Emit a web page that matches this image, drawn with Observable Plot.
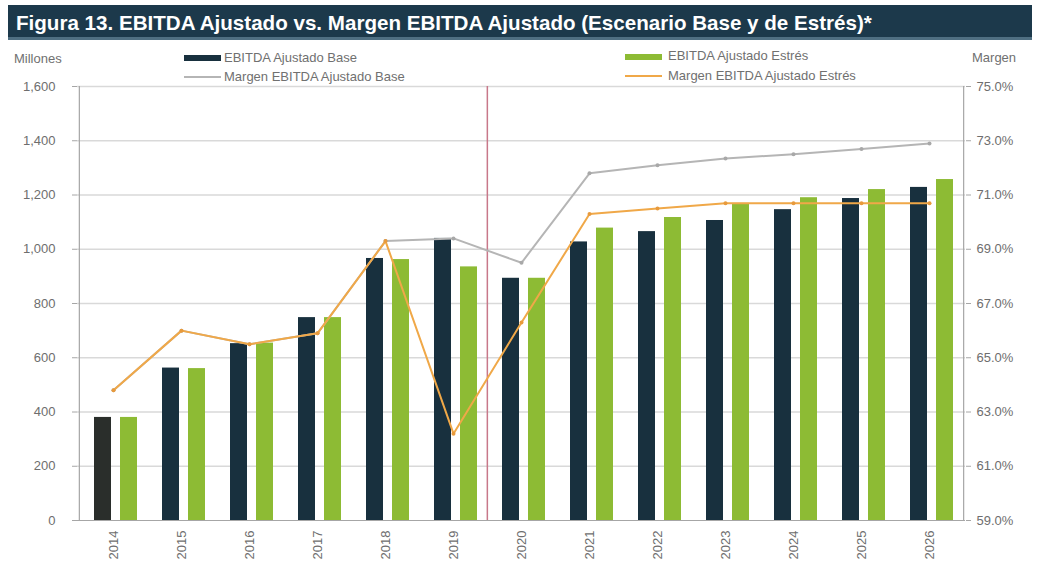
<!DOCTYPE html>
<html><head><meta charset="utf-8">
<script src="https://cdn.jsdelivr.net/npm/d3@7"></script>
<script src="https://cdn.jsdelivr.net/npm/@observablehq/plot@0.6"></script>
<style>
body{margin:0;background:#fff;}
#wrap{position:relative;width:1041px;height:562px;overflow:hidden;font-family:"Liberation Sans",Arial,sans-serif;}
#title{position:absolute;left:8px;top:5px;width:1024px;height:35px;background:#1c394b;color:#fff;box-sizing:border-box;border-bottom:3px solid #4f6f82;}
#title span{position:absolute;left:8px;top:6px;font:bold 21px "Liberation Sans",Arial,sans-serif;white-space:nowrap;transform:scaleX(0.98);transform-origin:0 50%;}
#chart{position:absolute;left:0;top:40px;}
.leg{position:absolute;font-size:13px;color:#707070;white-space:nowrap;line-height:16px;}
.sw{position:absolute;}
</style></head>
<body>
<div id="wrap">
  <div id="title"><span id="ttext">Figura 13. EBITDA Ajustado vs. Margen EBITDA Ajustado (Escenario Base y de Estrés)*</span></div>
  <div id="chart"></div>
  <div class="leg" style="left:14px;top:51px;">Millones</div>
  <div class="leg" style="left:972px;top:50px;">Margen</div>
  <div class="sw" style="left:184px;top:55px;width:37px;height:6px;background:#18303e"></div>
  <div class="leg" style="left:224px;top:50px;">EBITDA Ajustado Base</div>
  <div class="sw" style="left:184px;top:76px;width:37px;height:2px;background:#b5b5b5"></div>
  <div class="leg" style="left:224px;top:69px;">Margen EBITDA Ajustado Base</div>
  <div class="sw" style="left:625px;top:54px;width:37px;height:6px;background:#8dbb34"></div>
  <div class="leg" style="left:668px;top:48px;">EBITDA Ajustado Estrés</div>
  <div class="sw" style="left:625px;top:75px;width:37px;height:2px;background:#f0a848"></div>
  <div class="leg" style="left:668px;top:68px;">Margen EBITDA Ajustado Estrés</div>
</div>
<script>
const years = ["2014","2015","2016","2017","2018","2019","2020","2021","2022","2023","2024","2025","2026"];
const ebitdaBase = [380, 562, 652, 748, 966, 1040, 893, 1027, 1065, 1106, 1146, 1187, 1228];
const ebitdaEstres = [380, 560, 654, 748, 962, 935, 893, 1078, 1117, 1169, 1190, 1220, 1257];
const margenBase = [63.8, 66.0, 65.5, 65.9, 69.3, 69.4, 68.5, 71.8, 72.1, 72.35, 72.5, 72.7, 72.9];
const margenEstres = [63.8, 66.0, 65.5, 65.9, 69.3, 62.2, 66.3, 70.3, 70.5, 70.7, 70.7, 70.7, 70.7];
const leftTicks = [0, 200, 400, 600, 800, 1000, 1200, 1400, 1600];
const rightTicks = [59, 61, 63, 65, 67, 69, 71, 73, 75];
const dividerYear = "2020";

const ebitdaMax = 1600, marginMin = 59, marginMax = 75;
const toLeft = m => (m - marginMin) / (marginMax - marginMin) * ebitdaMax;
const toMargin = v => marginMin + v / ebitdaMax * (marginMax - marginMin);

const rows = years.map((year, i) => ({
  year, base: ebitdaBase[i], estres: ebitdaEstres[i],
  mBase: toLeft(margenBase[i]), mEstres: toLeft(margenEstres[i])
}));

const W = 1041, H = 522, mL = 77, mR = 76;
const half = (W - mL - mR) / years.length / 2;

const chart = Plot.plot({
  width: W, height: H,
  marginTop: 46, marginBottom: 42, marginLeft: mL, marginRight: mR,
  x: {type: "band", domain: years, padding: 0},
  y: {domain: [0, ebitdaMax]},
  style: {fontFamily: '"Liberation Sans", Arial, sans-serif', fontSize: "13px", color: "#6e6e6e", background: "transparent"},
  marks: [
    Plot.gridY(leftTicks.slice(1), {stroke: "#d9d9d9", strokeOpacity: 1, strokeWidth: 1.3}),
    Plot.ruleX([years[0]], {dx: -half, stroke: "#a6a6a6", strokeWidth: 1.2}),
    Plot.ruleX([years[years.length - 1]], {dx: half, stroke: "#a6a6a6", strokeWidth: 1.2}),
    Plot.barY(rows, {x: "year", y: "base", fill: d => d.year === years[0] ? "#2a2e2b" : "#18303e", insetLeft: 15, insetRight: 36}),
    Plot.barY(rows, {x: "year", y: "estres", fill: "#8dbb34", insetLeft: 41, insetRight: 10}),
    Plot.ruleX([dividerYear], {dx: -half, stroke: "#c8788a", strokeWidth: 1.5}),
    Plot.line(rows, {x: "year", y: "mBase", stroke: "#b5b5b5", strokeWidth: 2}),
    Plot.dot(rows, {x: "year", y: "mBase", fill: "#a8a8a8", r: 2}),
    Plot.line(rows, {x: "year", y: "mEstres", stroke: "#f0a848", strokeWidth: 2}),
    Plot.dot(rows, {x: "year", y: "mEstres", fill: "#e89a3c", r: 2}),
    Plot.ruleY([0], {stroke: "#a6a6a6", strokeWidth: 1.2}),
    Plot.axisY(leftTicks, {anchor: "left", tickFormat: d3.format(","), tickSize: 5, tickPadding: 17, stroke: "#a6a6a6", label: null}),
    Plot.axisY(leftTicks, {anchor: "right", tickFormat: v => toMargin(v).toFixed(1) + "%", tickSize: 5, tickPadding: 6, stroke: "#a6a6a6", label: null}),
    Plot.axisX({tickRotate: -90, tickSize: 0, tickPadding: 10, label: null})
  ]
});
document.getElementById("chart").appendChild(chart);
</script>
</body></html>
